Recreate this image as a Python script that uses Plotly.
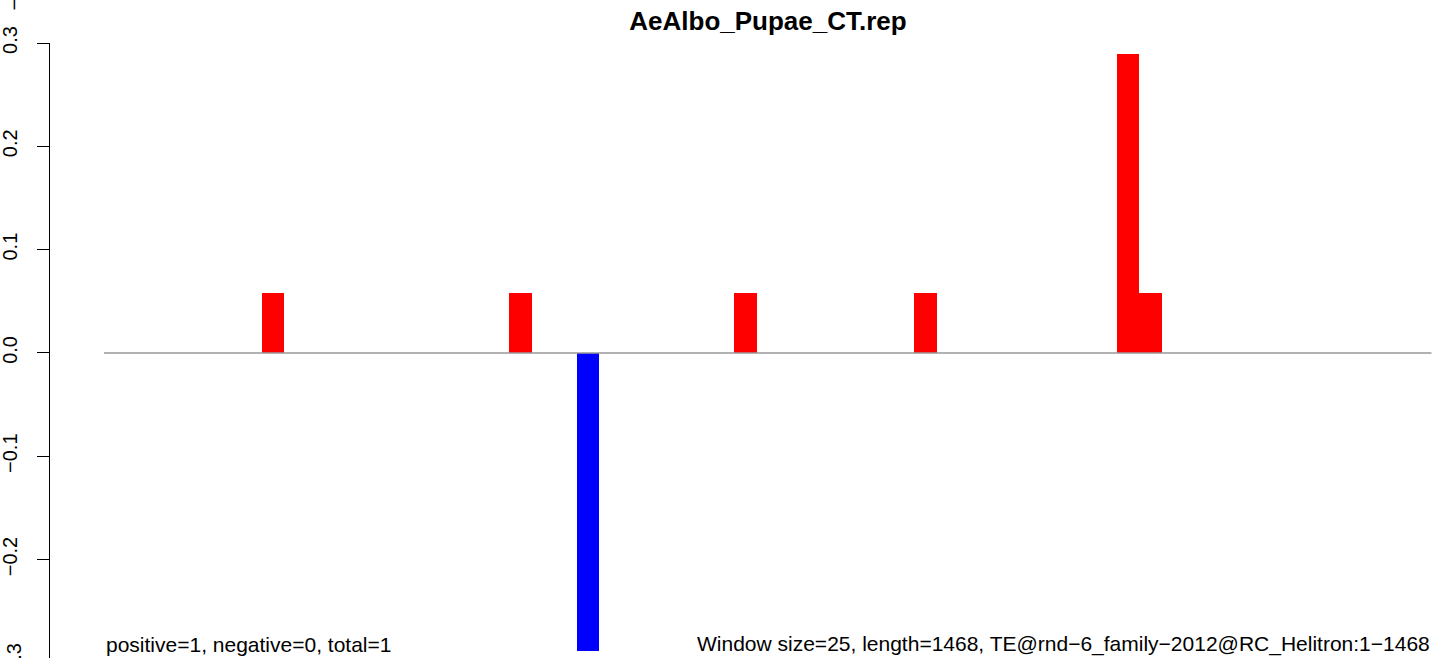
import plotly.graph_objects as go

# Data: 25-bp windows along a 1468-bp TE (59 windows)
window_size = 25
te_length = 1468
n_windows = 59
window_index = list(range(n_windows))

# non-zero windows
pos_windows = [7, 18, 28, 36, 45, 46]
pos_values = [0.058, 0.058, 0.058, 0.058, 0.289, 0.058]
neg_windows = [21]
neg_values = [-0.289]

title_text = "AeAlbo_Pupae_CT.rep"
left_note = "positive=1, negative=0, total=1"
right_note = "Window size=25, length=1468, TE@rnd\u22126_family\u22122012@RC_Helitron:1\u22121468"

ytick_vals = [0.3, 0.2, 0.1, 0.0, -0.1, -0.2]
ytick_text = ["0.3", "0.2", "0.1", "0.0", "\u22120.1", "\u22120.2"]

font_family = "Liberation Sans, Arial, Helvetica, sans-serif"

fig = go.Figure()
fig.add_trace(go.Bar(
    x=[i + 0.5 for i in pos_windows], y=pos_values, width=1,
    marker=dict(color="#FF0000", line=dict(width=0)), showlegend=False,
))
fig.add_trace(go.Bar(
    x=[i + 0.5 for i in neg_windows], y=neg_values, width=1,
    marker=dict(color="#0000FF", line=dict(width=0)), showlegend=False,
))

# zero line across the windows
fig.add_shape(type="line", xref="x", yref="y", x0=0, x1=n_windows, y0=0, y1=0,
              line=dict(color="#999999", width=1.5), layer="above")

W, H = 1444, 658
ml, mr, mt, mb = 50, 4, 43, 0
px_per_bar = 22.5
left_px_bar0 = 104
x0 = -(left_px_bar0 - ml) / px_per_bar
x1 = x0 + (W - ml - mr) / px_per_bar
y_top = 0.3
px_per_unit = 1033.0
y_bot = y_top - (H - mt - mb) / px_per_unit
plot_w = W - ml - mr
plot_h = H - mt - mb


def paper_y(px):
    # convert a pixel row (from top of page) to paper y
    return (H - mb - px) / plot_h


fig.update_layout(
    width=W, height=H,
    margin=dict(l=ml, r=mr, t=mt, b=mb, pad=0),
    paper_bgcolor="white", plot_bgcolor="white",
    bargap=0, barmode="overlay",
    font=dict(family=font_family, color="black", size=20),
    title=dict(text="<b>" + title_text + "</b>", x=(left_px_bar0 + 1432) / 2 / W, xanchor="center",
               y=1 - 21 / H, yanchor="middle", yref="container",
               font=dict(size=26, family=font_family, color="black")),
    xaxis=dict(range=[x0, x1], visible=False, fixedrange=True),
    yaxis=dict(range=[y_bot, y_top], tickvals=ytick_vals, ticktext=ytick_text,
               tickangle=-90, ticks="outside", ticklen=12, tickwidth=1, tickcolor="black",
               showline=True, linecolor="black", linewidth=1, showgrid=False, zeroline=False,
               tickfont=dict(size=20, family=font_family, color="black"),
               ticklabelstandoff=12, fixedrange=True),
)

note_y = paper_y(644)
fig.add_annotation(x=0, xref="x", xanchor="left", y=note_y, yref="paper",
                   yanchor="middle", text=left_note, showarrow=False,
                   font=dict(size=21, family=font_family, color="black"))
fig.add_annotation(x=n_windows, xref="x", xanchor="right", y=note_y, yref="paper",
                   yanchor="middle", text=right_note, showarrow=False,
                   font=dict(size=21, family=font_family, color="black"))

# partially visible cut-off labels (bottom -0.3 of this axis, top one from panel above)
label_x = (13.5 - ml) / plot_w
fig.add_annotation(x=label_x, xref="paper", xanchor="center", y=paper_y(663), yref="paper",
                   yanchor="middle", text="\u22120.3", textangle=-90, showarrow=False,
                   font=dict(size=20, family=font_family, color="black"))
fig.add_annotation(x=label_x, xref="paper", xanchor="center", y=paper_y(-9), yref="paper",
                   yanchor="middle", text="\u22120.3", textangle=-90, showarrow=False,
                   font=dict(size=20, family=font_family, color="black"))

fig.write_html("out.html", config={"displayModeBar": False},
               post_script="document.body.style.margin='0';document.body.style.overflow='hidden';")
